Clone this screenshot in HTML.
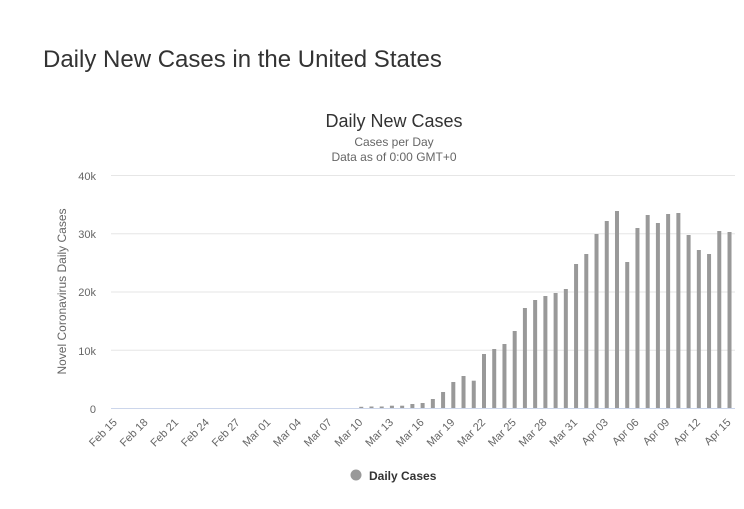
<!DOCTYPE html>
<html><head><meta charset="utf-8"><style>
html,body{margin:0;padding:0;background:#fff;}
body{width:744px;height:504px;overflow:hidden;font-family:"Liberation Sans",Arial,sans-serif;}
svg text{font-family:"Liberation Sans",Arial,sans-serif;}
</style></head><body>
<svg width="744" height="504" viewBox="0 0 744 504" xmlns="http://www.w3.org/2000/svg">
<rect width="744" height="504" fill="#fff"/>
<text x="43" y="67" font-size="24" fill="#333">Daily New Cases in the United States</text>
<text x="394" y="127" font-size="18" fill="#333" text-anchor="middle">Daily New Cases</text>
<text x="394" y="146" font-size="12" fill="#666" text-anchor="middle">Cases per Day</text>
<text x="394" y="161" font-size="12" fill="#666" text-anchor="middle">Data as of 0:00 GMT+0</text>
<g stroke="#e6e6e6" stroke-width="1">
<line x1="111" y1="175.5" x2="735" y2="175.5"/>
<line x1="111" y1="233.75" x2="735" y2="233.75"/>
<line x1="111" y1="292" x2="735" y2="292"/>
<line x1="111" y1="350.25" x2="735" y2="350.25"/>
</g>
<g font-size="11" fill="#666" text-anchor="end">
<text x="96" y="180">40k</text>
<text x="96" y="238">30k</text>
<text x="96" y="296">20k</text>
<text x="96" y="355">10k</text>
<text x="96" y="413">0</text>
</g>
<text transform="translate(66,291.5) rotate(-90)" font-size="12" fill="#666" text-anchor="middle">Novel Coronavirus Daily Cases</text>
<g id="bars" fill="#999"></g>
<line x1="111" y1="408.5" x2="735" y2="408.5" stroke="#ccd6eb" stroke-width="1"/>
<g id="xl" font-size="11" fill="#666" text-anchor="end"></g>
<circle cx="356" cy="475" r="5.5" fill="#999"/>
<text x="369" y="480" font-size="12" font-weight="bold" fill="#333">Daily Cases</text>
</svg>
<script>
(function(){
var h={24:1.2,25:1.5,26:1.5,27:2.3,28:2.3,29:4,30:5,31:9,32:16,33:26,34:32,35:27.3,36:54,37:59,38:64,39:77,40:100,41:108,42:112,43:115,44:119,45:144,46:154,47:174,48:187,49:197,50:146,51:180,52:193,53:185,54:194,55:195,56:173,57:158,58:154,59:177,60:176};
var ns="http://www.w3.org/2000/svg";
var g=document.getElementById("bars");
for(var i in h){var cx=110.6+(+i+0.5)*10.23;var r=document.createElementNS(ns,"rect");
r.setAttribute("x",(cx-2).toFixed(2));r.setAttribute("y",(408-h[i]).toFixed(2));r.setAttribute("width","4");r.setAttribute("height",h[i]);g.appendChild(r);}
var labs=["Feb 15","Feb 18","Feb 21","Feb 24","Feb 27","Mar 01","Mar 04","Mar 07","Mar 10","Mar 13","Mar 16","Mar 19","Mar 22","Mar 25","Mar 28","Mar 31","Apr 03","Apr 06","Apr 09","Apr 12","Apr 15"];
var xl=document.getElementById("xl");
for(var k=0;k<labs.length;k++){var idx=k*3;var cx=110.6+(idx+0.5)*10.23;var t=document.createElementNS(ns,"text");
var ax=cx+2,ay=423;t.setAttribute("x",ax.toFixed(2));t.setAttribute("y",ay);t.setAttribute("transform","rotate(-45 "+ax.toFixed(2)+" "+ay+")");t.textContent=labs[k];xl.appendChild(t);}
})();
</script>
</body></html>
